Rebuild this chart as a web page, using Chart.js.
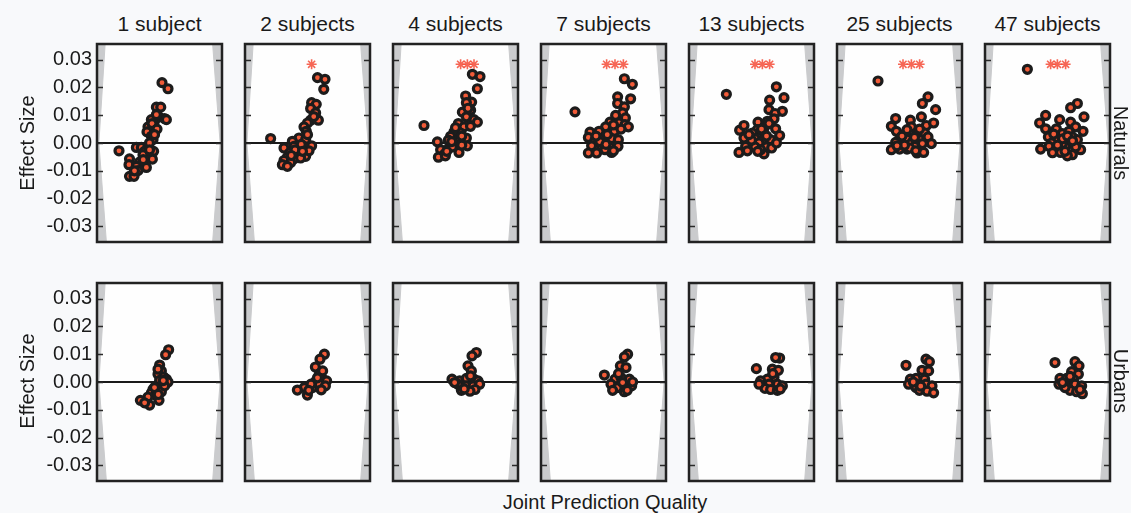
<!DOCTYPE html>
<html><head><meta charset="utf-8">
<script src="https://cdn.jsdelivr.net/npm/chart.js@4.4.1/dist/chart.umd.min.js"></script>
<style>
body{margin:0;background:#f8f9fb;}
#wrap{position:relative;width:1131px;height:513px;font-family:"Liberation Sans",Arial,sans-serif;color:#1a1a1a;overflow:hidden;}
canvas{position:absolute;}
.t{position:absolute;font-size:20px;line-height:20px;white-space:nowrap;text-align:center;}
.ttl{font-size:21px;}
</style></head>
<body><div id="wrap"></div>
<script>
// ---- data ----
const titles = ['1 subject','2 subjects','4 subjects','7 subjects','13 subjects','25 subjects','47 subjects'];
const rowLabels = ['Naturals','Urbans'];
const yLabel = 'Effect Size';
const xLabel = 'Joint Prediction Quality';
const yTicks = [-0.03,-0.02,-0.01,0,0.01,0.02,0.03];
const yMin = -0.0356, yMax = 0.0356;

// [x (0-100 across panel), effect size]
const naturals1 = [[17.6,-0.0028],[52,0.0217],[56.8,0.0195],[47.5,0.0129],[51,0.0129],[49.6,0.0094],[54,0.0088],[46,0.0078],[43.5,0.0084],[40.8,0.0058],[40,0.0040],[43.5,0.0024],[44.8,0.0012],[31.5,-0.0016],[35.5,-0.0016],[40.8,-0.0014],[45.3,-0.0030],[38,-0.0030],[26,-0.0057],[34,-0.0069],[39.5,-0.0051],[44.3,-0.0058],[25.6,-0.0078],[31.5,-0.0084],[39.5,-0.0088],[32.8,-0.0099],[26,-0.0120],[29.6,-0.0120],[36.8,-0.0042],[42,0.0000],[47.5,0.0102],[55.5,0.0084],[44,0.0070],[48,0.0050],[37,-0.0060],[42,-0.0025],[30,-0.0100],[46,0.0030]];
const naturals2 = [[58,0.0235],[64,0.0229],[63,0.0193],[53.3,0.0145],[57,0.0139],[52.5,0.0124],[56.5,0.0108],[52.5,0.0082],[58.7,0.0082],[50,0.0072],[47.2,0.0058],[49,0.0042],[43.2,0.0018],[48.5,0.0012],[37.9,0.0006],[20.5,0.0016],[42.7,-0.0014],[48,-0.0014],[53.3,-0.0010],[39.2,-0.0012],[31.2,-0.0018],[35.7,-0.0036],[41.3,-0.0036],[48.5,-0.0048],[33.9,-0.0051],[39.2,-0.0057],[31.2,-0.0063],[36.5,-0.0070],[29.9,-0.0078],[33.9,-0.0084],[44.5,-0.0054],[51.2,-0.0028],[45,-0.0005],[40,-0.0025],[46,-0.0030],[55,0.0095],[50,0.0030],[37,-0.0045]];
const naturals3 = [[63.5,0.0247],[69.6,0.0239],[67.5,0.0195],[24.8,0.0063],[58.1,0.0169],[62.9,0.0147],[58.7,0.0145],[62.1,0.0118],[55.5,0.0111],[58.7,0.0094],[64.8,0.0084],[67.5,0.0075],[52.3,0.0070],[56.8,0.0058],[48.8,0.0040],[54.1,0.0036],[46.1,0.0024],[53.3,0.0016],[58.7,0.0018],[35.5,0.0004],[44.3,0.0010],[50.1,-0.0006],[59.5,-0.0010],[38.1,-0.0024],[44.8,-0.0018],[52.8,-0.0034],[40.8,-0.0042],[36.3,-0.0051],[41.9,-0.0046],[47.5,-0.0014],[50,0.0055],[55,0.0025],[47,0.0005],[43,-0.0030],[60,0.0125],[55,-0.0008],[62,0.0060]];
const naturals4 = [[66.7,0.0231],[73.1,0.0211],[27.2,0.0112],[61.3,0.0166],[71.7,0.0159],[61.3,0.0142],[66.7,0.0130],[65.3,0.0108],[59.7,0.0099],[67.5,0.0090],[55.2,0.0075],[62.4,0.0072],[51.7,0.0058],[58.7,0.0042],[67.2,0.0066],[69.9,0.0058],[46.4,0.0042],[39.2,0.0039],[37.9,0.0020],[49.9,0.0016],[56.5,0.0016],[61.9,0.0012],[43.2,0.0010],[40.5,-0.0010],[48.8,-0.0014],[54.9,-0.0014],[61.6,-0.0012],[37.9,-0.0036],[44.5,-0.0036],[56.5,-0.0034],[51.2,-0.0024],[53,0.0030],[58,0.0065],[47,0.0005],[52,-0.0005],[64,0.0050],[58,-0.0028],[44,0.0025]];
const naturals5 = [[29.9,0.0175],[69.9,0.0202],[76,0.0163],[64.5,0.0154],[64,0.0120],[74.7,0.0114],[68.8,0.0106],[68,0.0087],[55.2,0.0075],[62.7,0.0078],[60.8,0.0060],[69.3,0.0051],[40.5,0.0046],[44,0.0063],[54.7,0.0048],[60,0.0036],[72.5,0.0027],[50.7,0.0036],[44,0.0018],[52.8,0.0016],[60,0.0014],[65.3,0.0012],[56,0.0000],[45.3,-0.0012],[52.8,-0.0014],[61.9,-0.0014],[66.1,-0.0018],[40,-0.0034],[46.7,-0.0028],[60,-0.0039],[57.3,-0.0024],[50,0.0010],[58,0.0050],[48,0.0030],[62,0.0025],[55,-0.0030],[70,0.0000],[64,0.0070]];
const naturals6 = [[32.8,0.0223],[72.8,0.0166],[68.3,0.0142],[78.9,0.0120],[46.9,0.0088],[58.7,0.0082],[67.5,0.0094],[43.5,0.0060],[71.5,0.0063],[77.3,0.0072],[59.5,0.0058],[47.5,0.0042],[54.9,0.0034],[64,0.0036],[70.1,0.0036],[56,0.0014],[50.1,0.0012],[60.8,0.0006],[66.1,0.0012],[72.8,0.0022],[46.9,0.0002],[59.5,-0.0002],[75.5,-0.0002],[68.3,-0.0002],[43.5,-0.0024],[50.1,-0.0022],[56,-0.0022],[64,-0.0036],[69.3,-0.0034],[62.1,-0.0012],[58.1,-0.0018],[52,0.0025],[62,0.0020],[54,-0.0008],[66,0.0050],[56,0.0048],[63,-0.0028],[48,-0.0010]];
const naturals7 = [[33.9,0.0265],[73.9,0.0142],[68.5,0.0127],[79.2,0.0094],[48.5,0.0099],[59.7,0.0084],[43.7,0.0072],[68.5,0.0075],[48.5,0.0051],[57.1,0.0051],[72.5,0.0058],[78.4,0.0042],[61.9,0.0034],[67.2,0.0042],[50.7,0.0022],[57.9,0.0014],[69.9,0.0022],[73.9,0.0012],[65.6,0.0006],[53.3,0.0000],[44.5,-0.0022],[51.2,-0.0012],[57.1,-0.0022],[64.5,-0.0014],[69.9,-0.0042],[65.9,-0.0046],[76.5,-0.0024],[72.5,-0.0014],[60.5,-0.0034],[61.9,-0.0002],[55,0.0032],[62,0.0015],[58,-0.0008],[66,0.0025],[54,-0.0035],[64,-0.0030],[70,0.0008]];

const urbans1 = [[57.3,0.0116],[54.9,0.0098],[50.1,0.0061],[51.5,0.0040],[48.8,0.0028],[53.3,0.0018],[55.5,0.0010],[56.8,0.0000],[52.3,-0.0008],[47.5,-0.0014],[51.5,-0.0035],[44.8,-0.0027],[43.5,-0.0039],[46.9,-0.0047],[40.8,-0.0054],[34.7,-0.0066],[49.6,-0.0066],[42.1,-0.0083],[38.1,-0.0075],[54.1,-0.0014],[50.1,0.0006],[48.8,0.0046],[53,0.0005],[46,-0.0020],[49,-0.0045]];
const urbans2 = [[63.5,0.0100],[60,0.0082],[56.3,0.0054],[59.5,0.0028],[62.1,0.0010],[65.3,0.0004],[56.8,0.0004],[59.5,-0.0020],[54.1,-0.0020],[47.5,-0.0020],[41.9,-0.0029],[49.9,-0.0047],[59.5,-0.0008],[64.3,-0.0014],[52.8,-0.0008],[62.1,0.0040],[58,0.0015],[51,-0.0030],[61,-0.0028]];
const urbans3 = [[66.7,0.0106],[63.2,0.0094],[60,0.0058],[62.7,0.0040],[47.2,0.0010],[53.3,0.0004],[58.7,0.0013],[64.8,0.0010],[68,0.0004],[52,-0.0008],[58.7,-0.0014],[64,-0.0014],[69.3,-0.0008],[54.7,-0.0030],[65.6,-0.0027],[61.6,-0.0033],[49.3,-0.0002],[62,0.0022],[57,-0.0025]];
const urbans4 = [[69.3,0.0100],[66.7,0.0090],[63.5,0.0058],[68,0.0052],[50.7,0.0025],[59.2,0.0010],[64,0.0016],[70.7,0.0010],[56,-0.0008],[61.3,-0.0020],[67.2,-0.0020],[72.5,-0.0014],[57.3,-0.0030],[66.7,-0.0035],[65.3,-0.0002],[73.3,0.0000],[62,0.0030],[69,-0.0030]];
const urbans5 = [[72.5,0.0086],[69.3,0.0088],[53.9,0.0048],[66.7,0.0046],[71.5,0.0042],[68,0.0018],[62.7,0.0010],[57.3,0.0004],[64,-0.0008],[70.7,-0.0008],[74.7,-0.0014],[60.8,-0.0023],[65.3,-0.0027],[70.7,-0.0030],[56,-0.0008],[67,0.0030],[73,-0.0025]];
const urbans6 = [[55.2,0.0060],[71.2,0.0082],[73.9,0.0073],[68,0.0042],[73.3,0.0040],[63.2,0.0013],[70.1,0.0010],[58.7,0.0010],[57.3,-0.0008],[63.2,-0.0020],[71.2,-0.0008],[76,-0.0014],[65.9,-0.0030],[72,-0.0033],[77.3,-0.0039],[67,-0.0015],[61,0.0000]];
const urbans7 = [[56,0.0070],[72,0.0073],[75.2,0.0058],[69.3,0.0037],[74.7,0.0028],[60,0.0013],[65.3,0.0013],[70.7,0.0010],[59.2,-0.0008],[65.3,-0.0014],[72,-0.0008],[77.3,-0.0014],[68,-0.0030],[73.3,-0.0035],[77.9,-0.0042],[64,-0.0020],[76,-0.0027],[68,0.0020],[62,-0.0002]];

// significance stars (top row)
const starsX = [[],[53.3],[54.1,59.5,64.8],[52.5,59.2,65.9],[52.8,58.7,64.5],[52.8,59.5,66.1],[52.5,57.9,64.5]];
const starY = 0.0283;

// grey edge wedges
const wedgeLeftX  = [0, 6.5, 1.5, 7.5, 0];
const wedgeRightX = [100, 92.5, 98.5, 92.5, 100];
const wedgeY = [yMax, yMax, 0, yMin, yMin];

const rows = [
  [naturals1,naturals2,naturals3,naturals4,naturals5,naturals6,naturals7],
  [urbans1,urbans2,urbans3,urbans4,urbans5,urbans6,urbans7]
];

// ---- layout ----
const PL = 97, STEP = 148, W = 125, H = 198, TOPS = [44, 283], YW = 60;
const FONT = '"Liberation Sans", Arial, sans-serif';
const wrap = document.getElementById('wrap');

function addText(txt, x, y, w, rot, cls){
  const d = document.createElement('div');
  d.className = 't' + (cls ? ' ' + cls : ''); d.textContent = txt;
  d.style.width = w + 'px';
  d.style.left = (x - w/2) + 'px'; d.style.top = (y - 10) + 'px';
  if (rot) d.style.transform = 'rotate(' + rot + 'deg)';
  wrap.appendChild(d);
}

const framePlugin = {
  id: 'frame',
  beforeDatasetsDraw(chart){
    const {ctx, chartArea:a} = chart;
    ctx.save(); ctx.fillStyle = '#fefefe';
    ctx.fillRect(a.left, a.top, a.width, a.height);
    ctx.restore();
  },
  afterDatasetsDraw(chart){
    const {ctx, chartArea:a, scales:{y}} = chart;
    ctx.save();
    ctx.strokeStyle = '#2a2a2a'; ctx.lineWidth = 1.5;
    yTicks.forEach(v => {
      const py = Math.round(y.getPixelForValue(v)) + 0.5;
      ctx.beginPath();
      ctx.moveTo(a.left, py); ctx.lineTo(a.left + 6, py);
      ctx.moveTo(a.right, py); ctx.lineTo(a.right - 6, py);
      ctx.stroke();
    });
    ctx.strokeStyle = '#222'; ctx.lineWidth = 2.5;
    ctx.strokeRect(a.left, a.top, a.width, a.height);
    ctx.restore();
  }
};

function makePanel(r, c){
  const pts = rows[r][c];
  const left = PL + STEP*c, top = TOPS[r];
  const padL = c === 0 ? YW : 3;
  const cw = W + padL + 3, ch = H + 6;
  const cv = document.createElement('canvas');
  cv.width = cw; cv.height = ch;
  cv.style.left = (left - padL) + 'px'; cv.style.top = (top - 3) + 'px';
  cv.style.width = cw + 'px'; cv.style.height = ch + 'px';
  wrap.appendChild(cv);
  const wedge = xs => xs.map((x,i) => ({x, y: wedgeY[i]}));
  new Chart(cv, {
    type: 'scatter',
    data: { datasets: [
      { data: pts.map(p => ({x:p[0], y:p[1]})), backgroundColor:'#f25b38', borderColor:'#1c1c1c', borderWidth:3.2, pointRadius:4, order:0 },
      { data: (r === 0 ? starsX[c] : []).map(x => ({x, y:starY})), pointStyle:'star', pointRadius:5, borderColor:'rgba(245,75,55,0.85)', backgroundColor:'rgba(245,75,55,0.85)', borderWidth:1.6, order:1 },
      { type:'line', data:[{x:0,y:0},{x:100,y:0}], borderColor:'#1a1a1a', borderWidth:2, pointRadius:0, fill:false, order:2 },
      { type:'line', data: wedge(wedgeLeftX), borderColor:'#cacbcd', borderWidth:1, backgroundColor:'#cacbcd', fill:'shape', pointRadius:0, tension:0, order:3 },
      { type:'line', data: wedge(wedgeRightX), borderColor:'#cacbcd', borderWidth:1, backgroundColor:'#cacbcd', fill:'shape', pointRadius:0, tension:0, order:3 }
    ]},
    options: {
      responsive:false, animation:false, devicePixelRatio:1,
      layout:{ autoPadding:false, padding:{ left: c === 0 ? 0 : 3, right:3, top:3, bottom:3 } },
      plugins:{ legend:{display:false}, tooltip:{enabled:false} },
      scales:{
        x:{ type:'linear', min:0, max:100, display:false },
        y:{ type:'linear', min:yMin, max:yMax, display: c === 0,
            afterFit(s){ s.width = c === 0 ? YW : 0; s.paddingTop = 0; s.paddingBottom = 0; },
            afterBuildTicks(s){ s.ticks = yTicks.map(v => ({value:v})); },
            grid:{ display:false, drawTicks:false },
            border:{ display:false },
            ticks:{ font:{ size:20, family:FONT }, color:'#1a1a1a', padding:5,
                    callback: v => (Math.abs(v) < 1e-9 ? 0 : v).toFixed(2) } }
      }
    },
    plugins:[framePlugin]
  });
}

for (let r = 0; r < 2; r++) for (let c = 0; c < 7; c++) makePanel(r, c);

titles.forEach((t, c) => addText(t, PL + STEP*c + W/2, 24, 150, 0, 'ttl'));
addText(yLabel, 27, 143, 160, -90);
addText(yLabel, 27, 381, 160, -90);
addText(rowLabels[0], 1121, 143, 120, 90);
addText(rowLabels[1], 1121, 381, 120, 90);
addText(xLabel, 605, 502, 300);
</script>
</body></html>
